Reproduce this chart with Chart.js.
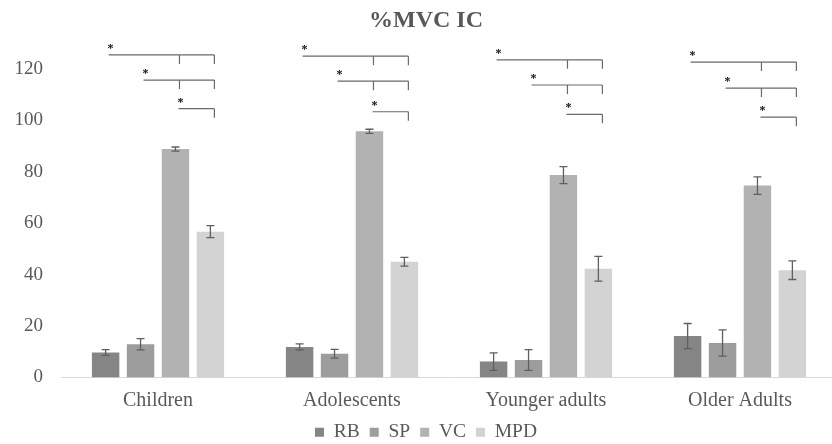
<!DOCTYPE html>
<html>
<head>
<meta charset="utf-8">
<script src="https://cdn.jsdelivr.net/npm/chart.js@4"></script>
<style>
  html, body { margin: 0; padding: 0; background: #fff; overflow: hidden; }
  #wrap { width: 860px; height: 444px; }
</style>
</head>
<body>
<div id="wrap"><canvas id="mvcChart" width="860" height="444"></canvas></div>
<script>
// groups and series
var groups = ['Children', 'Adolescents', 'Younger adults', 'Older Adults'];
var seriesNames = ['RB', 'SP', 'VC', 'MPD'];

// mean %MVC per group
var rbValues  = [9.7, 11.9, 6.2, 16.1];
var spValues  = [12.9, 9.2, 6.8, 13.4];
var vcValues  = [88.8, 95.7, 78.7, 74.6];
var mpdValues = [56.7, 45.0, 42.3, 41.7];

// error (+/-) per group
var rbErrors  = [1.1, 1.2, 3.4, 4.9];
var spErrors  = [2.2, 1.7, 4.0, 5.1];
var vcErrors  = [0.8, 0.8, 3.3, 3.4];
var mpdErrors = [2.3, 1.7, 4.8, 3.6];

var yTicks = [0, 20, 40, 60, 80, 100, 120];

var seriesColors = ['#858585', '#9d9d9d', '#b2b2b2', '#d3d3d3'];
var textGray = '#595959';
var serif = "'Liberation Serif', 'Times New Roman', serif";

var allValues = [rbValues, spValues, vcValues, mpdValues];
var allErrors = [rbErrors, spErrors, vcErrors, mpdErrors];

// significance brackets: from bar `from` to last bar, with inner ticks
var brackets = [
  { from: 0, ticks: [2, 3], level: [125.4, 124.9, 123.5, 122.6] },
  { from: 1, ticks: [2, 3], level: [115.6, 115.2, 113.7, 112.5] },
  { from: 2, ticks: [3],    level: [104.5, 103.3, 102.3, 101.2] }
];

var errorBarPlugin = {
  id: 'errorBars',
  afterDatasetsDraw: function (chart) {
    var ctx = chart.ctx;
    var y = chart.scales.y;
    ctx.save();
    ctx.strokeStyle = '#5f5f5f';
    ctx.lineWidth = 1.3;
    chart.data.datasets.forEach(function (ds, di) {
      var meta = chart.getDatasetMeta(di);
      meta.data.forEach(function (bar, i) {
        var v = ds.data[i], e = allErrors[di][i];
        var top = y.getPixelForValue(v + e);
        var bot = y.getPixelForValue(v - e);
        var cx = bar.x, hw = 4;
        ctx.beginPath();
        ctx.moveTo(cx, top); ctx.lineTo(cx, bot);
        ctx.moveTo(cx - hw, top); ctx.lineTo(cx + hw, top);
        ctx.moveTo(cx - hw, bot); ctx.lineTo(cx + hw, bot);
        ctx.stroke();
      });
    });
    ctx.restore();
  }
};

var bracketPlugin = {
  id: 'sigBrackets',
  afterDraw: function (chart) {
    var ctx = chart.ctx;
    var y = chart.scales.y;
    var tickDepth = 9;
    ctx.save();
    ctx.lineWidth = 1.2;
    groups.forEach(function (g, gi) {
      var xs = seriesNames.map(function (s, di) {
        return chart.getDatasetMeta(di).data[gi].x + 4;
      });
      brackets.forEach(function (b) {
        var ly = y.getPixelForValue(b.level[gi]);
        var x0 = xs[b.from] - 1, x1 = xs[3];
        ctx.strokeStyle = '#6a6a6a';
        ctx.beginPath();
        ctx.moveTo(x0, ly); ctx.lineTo(x1, ly);
        b.ticks.forEach(function (t) {
          ctx.moveTo(xs[t], ly); ctx.lineTo(xs[t], ly + tickDepth);
        });
        ctx.stroke();
        ctx.fillStyle = '#111';
        ctx.font = 'bold 12px ' + serif;
        ctx.textAlign = 'center';
        ctx.textBaseline = 'middle';
        ctx.fillText('*', x0 + 2, ly - 6);
      });
    });
    ctx.restore();
  }
};

var ctxMvc = document.getElementById('mvcChart').getContext('2d');
var mvcChart = new Chart(ctxMvc, {
  type: 'bar',
  data: {
    labels: groups,
    datasets: seriesNames.map(function (name, i) {
      return {
        label: name,
        data: allValues[i],
        backgroundColor: seriesColors[i],
        borderWidth: 0,
        categoryPercentage: 0.72,
        barPercentage: 0.786
      };
    })
  },
  options: {
    responsive: false,
    devicePixelRatio: 1,
    animation: false,
    layout: { padding: { left: 15, right: 23, top: 0, bottom: -8 } },
    plugins: {
      title: {
        display: true,
        text: '%MVC IC',
        color: textGray,
        font: { family: serif, size: 24, weight: 'bold' },
        padding: { top: 6, bottom: 34 }
      },
      legend: {
        position: 'bottom',
        labels: {
          boxWidth: 9,
          boxHeight: 9,
          padding: 10,
          color: textGray,
          font: { family: serif, size: 19.5 }
        }
      },
      tooltip: { enabled: false }
    },
    scales: {
      x: {
        grid: { display: false, drawTicks: false },
        border: { display: true, color: '#d9d9d9', width: 1 },
        ticks: {
          color: textGray,
          padding: 11,
          font: { family: serif, size: 20 }
        },
        afterFit: function (scale) { scale.height = 35; }
      },
      y: {
        min: 0,
        max: 120,
        afterBuildTicks: function (axis) {
          axis.ticks = yTicks.map(function (v) { return { value: v }; });
        },
        grid: { display: false, drawTicks: false },
        border: { display: false },
        ticks: {
          color: textGray,
          padding: 18,
          font: { family: serif, size: 19 }
        },
        afterFit: function (scale) { scale.width = 46; }
      }
    }
  },
  plugins: [errorBarPlugin, bracketPlugin]
});
</script>
</body>
</html>
